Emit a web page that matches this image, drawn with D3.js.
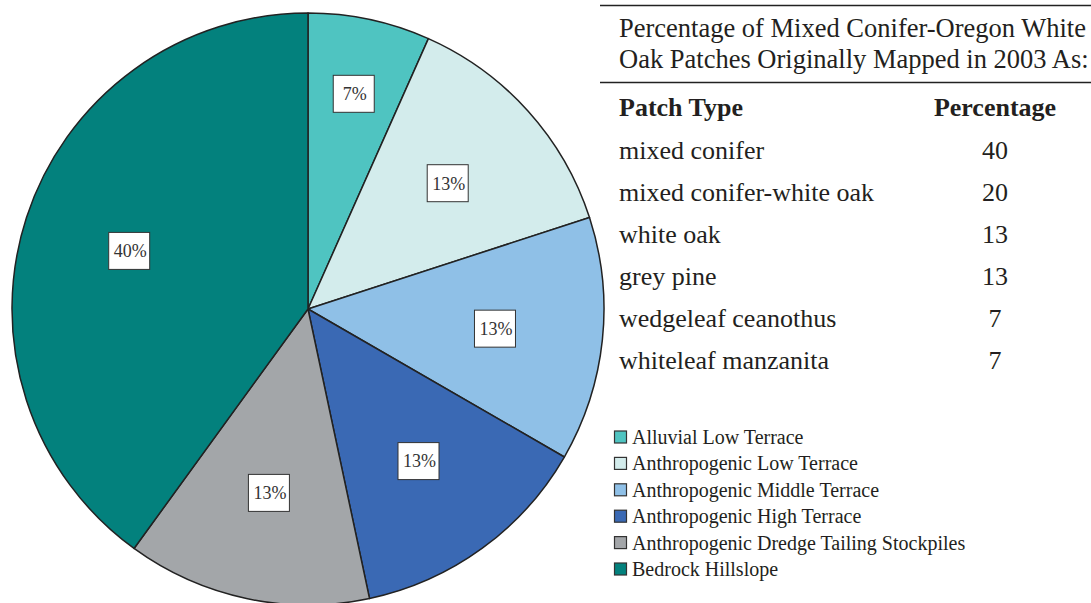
<!DOCTYPE html>
<html>
<head>
<meta charset="utf-8">
<script src="https://cdn.jsdelivr.net/npm/d3@7"></script>
<style>
  body { margin: 0; background: #fff; }
  svg { display: block; font-family: "Liberation Serif", "Times New Roman", serif; }
</style>
</head>
<body>
<svg id="chart" width="1091" height="603"></svg>
<script>
// pie slices (share of 15 patches)
var categories = [
  'Alluvial Low Terrace',
  'Anthropogenic Low Terrace',
  'Anthropogenic Middle Terrace',
  'Anthropogenic High Terrace',
  'Anthropogenic Dredge Tailing Stockpiles',
  'Bedrock Hillslope'
];
var shares = [1, 2, 2, 2, 2, 6];
var sliceLabels = ['7%', '13%', '13%', '13%', '13%', '40%'];
var colors = ['#4fc4c1', '#d3ecec', '#8fc0e7', '#3a69b4', '#a3a6a9', '#03817d'];

// table on the right
var titleLines = ['Percentage of Mixed Conifer-Oregon White', 'Oak Patches Originally Mapped in 2003 As:'];
var patchTypes = ['mixed conifer', 'mixed conifer-white oak', 'white oak', 'grey pine', 'wedgeleaf ceanothus', 'whiteleaf manzanita'];
var patchPercents = [40, 20, 13, 13, 7, 7];

var svg = d3.select('#chart');

/**
 * Pie
 */
var cx = 308, cy = 309, R = 296;

var pie = d3.pie().sort(null).value(function (d) { return d; });
var arcs = pie(shares);

var drawArc = d3.arc().innerRadius(0).outerRadius(R);

// narrow slices get their label pushed further out
function labelPos(d) {
  var r = (d.endAngle - d.startAngle) < 0.5 ? 220 : 188;
  return d3.arc().innerRadius(r).outerRadius(r).centroid(d);
}

var pieG = svg.append('g').attr('transform', 'translate(' + cx + ',' + cy + ')');

pieG.selectAll('path.slice')
  .data(arcs)
  .enter()
  .append('path')
  .attr('class', 'slice')
  .attr('d', drawArc)
  .attr('fill', function (d, i) { return colors[i]; })
  .attr('stroke', '#222')
  .attr('stroke-width', 1.5)
  .attr('stroke-linejoin', 'round');

var lab = pieG.selectAll('g.label')
  .data(arcs)
  .enter()
  .append('g')
  .attr('class', 'label')
  .attr('transform', function (d) {
    var c = labelPos(d);
    return 'translate(' + c[0] + ',' + c[1] + ')';
  });

lab.append('rect')
  .attr('x', -20.5).attr('y', -18.5)
  .attr('width', 41).attr('height', 37)
  .attr('fill', '#fff')
  .attr('stroke', '#333')
  .attr('stroke-width', 1);

lab.append('text')
  .attr('text-anchor', 'middle')
  .attr('dy', '0.35em')
  .attr('x', 1)
  .style('font-size', '18px')
  .attr('fill', '#333')
  .text(function (d, i) { return sliceLabels[i]; });

/**
 * Table
 */
var tx = 600, tw = 491;
var tableG = svg.append('g');

tableG.append('line')
  .attr('x1', tx).attr('x2', tx + tw).attr('y1', 5.5).attr('y2', 5.5)
  .attr('stroke', '#222').attr('stroke-width', 1.5);
tableG.append('line')
  .attr('x1', tx).attr('x2', tx + tw).attr('y1', 82.5).attr('y2', 82.5)
  .attr('stroke', '#222').attr('stroke-width', 1.5);

tableG.selectAll('text.title')
  .data(titleLines)
  .enter()
  .append('text')
  .attr('class', 'title')
  .attr('x', 619)
  .attr('y', function (d, i) { return 37 + i * 31; })
  .style('font-size', '26.5px')
  .attr('fill', '#231f20')
  .text(function (d) { return d; });

tableG.append('text')
  .attr('x', 619).attr('y', 116)
  .style('font-size', '26px').style('font-weight', 'bold')
  .attr('fill', '#231f20')
  .text('Patch Type');
tableG.append('text')
  .attr('x', 995).attr('y', 116)
  .attr('text-anchor', 'middle')
  .style('font-size', '26px').style('font-weight', 'bold')
  .attr('fill', '#231f20')
  .text('Percentage');

var rowY = d3.scalePoint().domain(patchTypes).range([159, 369]);

var rows = tableG.selectAll('g.row')
  .data(patchTypes)
  .enter()
  .append('g')
  .attr('class', 'row')
  .attr('transform', function (d) { return 'translate(0,' + rowY(d) + ')'; });

rows.append('text')
  .attr('x', 619)
  .style('font-size', '26px')
  .attr('fill', '#231f20')
  .text(function (d) { return d; });

rows.append('text')
  .attr('x', 995)
  .attr('text-anchor', 'middle')
  .style('font-size', '26px')
  .attr('fill', '#231f20')
  .text(function (d, i) { return patchPercents[i]; });

/**
 * Legend
 */
var legY = d3.scalePoint().domain(categories).range([437, 569]);

var leg = svg.append('g').selectAll('g.legend')
  .data(categories)
  .enter()
  .append('g')
  .attr('class', 'legend')
  .attr('transform', function (d) { return 'translate(614,' + legY(d) + ')'; });

leg.append('rect')
  .attr('x', 0.5).attr('y', -6)
  .attr('width', 12).attr('height', 12)
  .attr('fill', function (d, i) { return colors[i]; })
  .attr('stroke', '#333')
  .attr('stroke-width', 1.2);

leg.append('text')
  .attr('x', 18)
  .attr('dy', '0.35em')
  .style('font-size', '20px')
  .attr('fill', '#231f20')
  .text(function (d) { return d; });
</script>
</body>
</html>
